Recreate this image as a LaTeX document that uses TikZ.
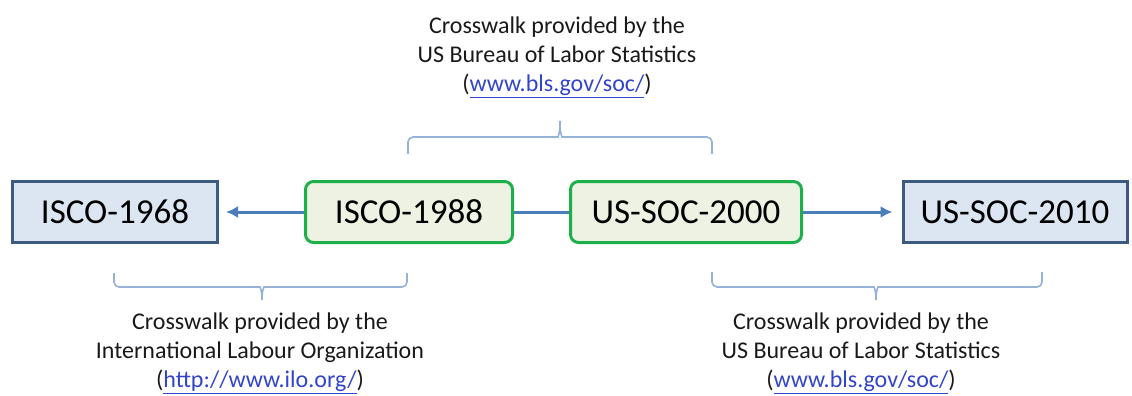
\documentclass[tikz,border=0pt]{standalone}
\usepackage{fontspec}
\setmainfont{Carlito}
\usetikzlibrary{arrows.meta}
\definecolor{oldedge}{HTML}{3D5A80}
\definecolor{oldfill}{HTML}{DCE6F2}
\definecolor{newedge}{HTML}{1DB04A}
\definecolor{newfill}{HTML}{EDF2E2}
\definecolor{linecol}{HTML}{4A7EBB}
\definecolor{bracecol}{HTML}{95B3D7}
\definecolor{linkblue}{HTML}{3344CC}
\newcommand\weblink[1]{\textcolor{linkblue}{\underline{#1}}}
\begin{document}
\begin{tikzpicture}[x=1pt,y=1pt,
    oldbox/.style={draw=oldedge,fill=oldfill,line width=3pt,minimum height=61pt,font=\fontsize{35}{40}\selectfont},
    newbox/.style={draw=newedge,fill=newfill,line width=3pt,rounded corners=8pt,minimum height=61pt,font=\fontsize{35}{40}\selectfont},
    flow/.style={draw=linecol,line width=3pt},
    crossbrace/.style={draw=bracecol,line width=1.6pt,rounded corners=5pt},
    note/.style={align=center,inner sep=0pt,text=black!90,font=\fontsize{24}{29}\selectfont}]
    \useasboundingbox (0,0) rectangle (1132,-396);
    \node[oldbox,minimum width=205pt] (I68) at (115,-212) {ISCO-1968};
    \node[newbox,minimum width=207pt] (I88) at (409,-212) {ISCO-1988};
    \node[newbox,minimum width=231pt] (S00) at (686,-212) {US-SOC-2000};
    \node[oldbox,minimum width=224pt] (S10) at (1015,-212) {US-SOC-2010};
    \draw[flow,-{Latex[length=12pt,width=12pt]},shorten >=7pt] (I88) -- (I68);
    \draw[flow] (I88) -- (S00);
    \draw[flow,-{Latex[length=12pt,width=12pt]},shorten >=9pt] (S00) -- (S10);
    % braces
    \draw[crossbrace] (408,-154) |- (553,-137) .. controls (558,-137) and (560,-133) .. (560,-118)
        .. controls (560,-133) and (562,-137) .. (567,-137) -| (712,-154);
    \draw[crossbrace] (114,-273) |- (255,-287) .. controls (260,-287) and (262,-291) .. (262,-303)
        .. controls (262,-291) and (264,-287) .. (269,-287) -| (407,-273);
    \draw[crossbrace] (712,-272) |- (869,-287) .. controls (874,-287) and (876,-291) .. (876,-303)
        .. controls (876,-291) and (878,-287) .. (883,-287) -| (1042,-272);
    \node[note] (topnote) at (557,-57) {Crosswalk provided by the\\US Bureau of Labor Statistics\\(\weblink{www.bls.gov/soc/})};
    \node[note] (ilonote) at (260,-353) {Crosswalk provided by the\\International Labour Organization\\(\weblink{http://www.ilo.org/})};
    \node[note] (blsnote) at (861,-353) {Crosswalk provided by the\\US Bureau of Labor Statistics\\(\weblink{www.bls.gov/soc/})};
\end{tikzpicture}
\end{document}
